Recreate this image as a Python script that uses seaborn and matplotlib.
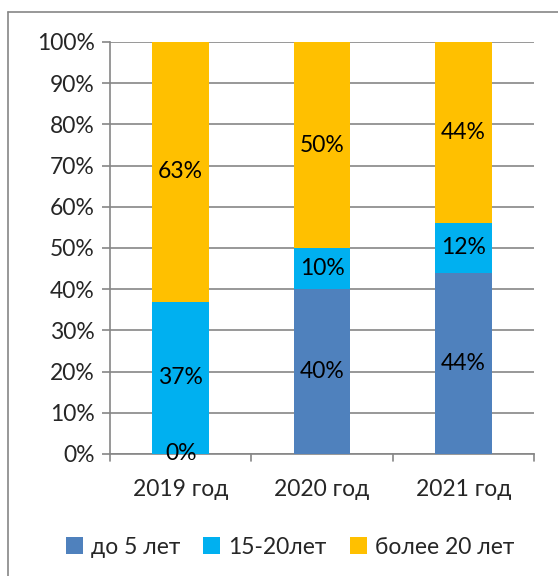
import matplotlib
matplotlib.use("Agg")
import matplotlib.pyplot as plt
import seaborn as sns
import pandas as pd
from matplotlib.lines import Line2D
from matplotlib.patches import Patch

years = ["2019 год", "2020 год", "2021 год"]
series_names = ["до 5 лет", "15-20лет", "более 20 лет"]
s_upto5 = [0, 40, 44]
s_15_20 = [37, 10, 12]
s_over20 = [63, 50, 44]
colors = ["#4F81BD", "#00B0F0", "#FFC000"]
yticks = [0, 10, 20, 30, 40, 50, 60, 70, 80, 90, 100]

sns.set_theme(style="white")
plt.rcParams['font.family'] = ['Lato', 'DejaVu Sans']
FS = 16.5

fig = plt.figure(figsize=(5.58, 5.76), dpi=100)
ax = fig.add_axes([110/558, 1-454/576, (534-110)/558, (454-42)/576])

df = pd.DataFrame({"year": years, "a": s_upto5, "b": s_15_20, "c": s_over20})
bottoms = [0, 0, 0]
for col, name, color in zip(["a", "b", "c"], series_names, colors):
    sns.barplot(data=df, x="year", y=col, color=color, width=0.4, ax=ax,
                bottom=bottoms, saturation=1, zorder=3, linewidth=0, edgecolor="none")
    for i, v in enumerate(df[col]):
        if col == "a" and v == 0:
            ax.text(i, 0, f"{v}%", ha="center", va="center", fontsize=FS, color="black", zorder=5)
        elif v > 0:
            ax.text(i, bottoms[i] + v/2, f"{v}%", ha="center", va="center", fontsize=FS, color="black", zorder=5)
    bottoms = [b + v for b, v in zip(bottoms, df[col])]

ax.set_ylim(0, 100)
ax.set_xlim(-0.5, 2.5)
ax.set_yticks(yticks)
ax.set_yticklabels([f"{t}%" for t in yticks], fontsize=FS)
ax.set_xticks([0, 1, 2])
ax.set_xticklabels(years, fontsize=FS)
ax.set_xlabel("")
ax.set_ylabel("")
ax.yaxis.grid(True, color="#868686", linewidth=1.2, zorder=0)
ax.set_axisbelow(True)
for s in ["top", "right"]:
    ax.spines[s].set_visible(False)
for s in ["left", "bottom"]:
    ax.spines[s].set_color("#868686")
    ax.spines[s].set_linewidth(1.2)
ax.tick_params(axis="y", length=6, color="#868686", width=1.2, pad=5, direction="out", left=True)
ax.tick_params(axis="x", length=0, pad=18)
# x-axis category boundary ticks
for xb in [-0.5, 0.5, 1.5, 2.5]:
    ax.plot([xb, xb], [0, -1.6], color="#868686", lw=1.2, clip_on=False, zorder=4)

handles = [Patch(facecolor=c, edgecolor="none") for c in colors]
fig.legend(handles, series_names, loc="center", bbox_to_anchor=(290/558, 1-547/576),
           ncol=3, frameon=False, fontsize=FS, handlelength=0.75, handleheight=0.75,
           handletextpad=0.35, columnspacing=1.0)

# outer chart border (left and top visible)
fig.add_artist(Line2D([8/558, 8/558], [0, 1-12/576], color="#868686", lw=1.2, transform=fig.transFigure))
fig.add_artist(Line2D([8/558, 1], [1-12/576, 1-12/576], color="#868686", lw=1.2, transform=fig.transFigure))

fig.savefig("out.png", dpi=100)
